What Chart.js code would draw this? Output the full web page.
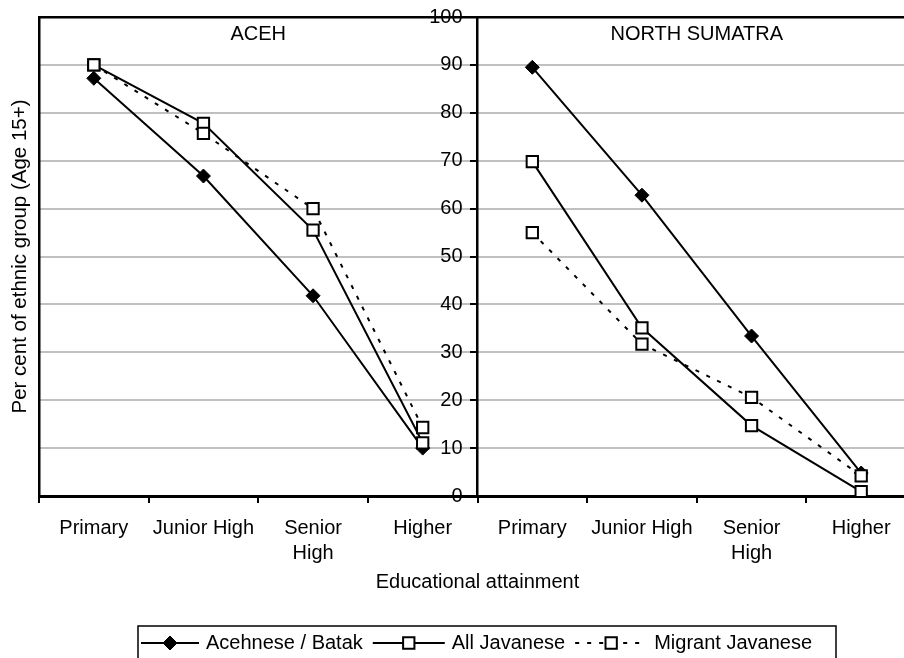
<!DOCTYPE html>
<html>
<head>
<meta charset="utf-8">
<script src="https://cdn.jsdelivr.net/npm/chart.js@4.4.1/dist/chart.umd.min.js"></script>
<style>
  html, body { margin: 0; padding: 0; background: #fff; overflow: hidden; }
  #wrap { width: 904px; height: 658px; overflow: hidden; }
</style>
</head>
<body>
<div id="wrap"><canvas id="chart" width="926" height="658"></canvas></div>
<script>
const categories = ['Primary', 'Junior High', ['Senior', 'High'], 'Higher'];
const panels = ['ACEH', 'NORTH SUMATRA'];
const seriesNames = ['Acehnese / Batak', 'All Javanese', 'Migrant Javanese'];

// per cent of ethnic group aged 15+, by educational attainment
const acehAcehnese = [87.2, 66.8, 41.8, 10.0];
const acehAllJavanese = [90.0, 77.8, 55.5, 11.1];
const acehMigrant = [90.0, 75.7, 60.0, 14.3];
const sumutBatak = [89.5, 62.8, 33.4, 4.8];
const sumutAllJavanese = [69.8, 35.1, 14.7, 0.9];
const sumutMigrant = [55.0, 31.7, 20.6, 4.2];

const yMin = 0;
const yMax = 100;
const yStep = 10;

const FONT = '"Liberation Sans", Arial, sans-serif';
const font = { family: FONT, size: 20, lineHeight: 1.25 };

const seriesStyle = [
  { pointStyle: 'rectRot', pointRadius: 7, pointBackgroundColor: '#000', pointBorderWidth: 1, borderDash: [] },
  { pointStyle: 'rect', pointRadius: 8, pointBackgroundColor: '#fff', pointBorderWidth: 2, borderDash: [] },
  { pointStyle: 'rect', pointRadius: 8, pointBackgroundColor: '#fff', pointBorderWidth: 2, borderDash: [4, 8] },
];

const blanks = categories.map(() => null);
const panelSeries = [
  [acehAcehnese, acehAllJavanese, acehMigrant],
  [sumutBatak, sumutAllJavanese, sumutMigrant],
];

const datasets = [];
panelSeries.forEach((series, p) => {
  series.forEach((vals, s) => {
    datasets.push({
      label: seriesNames[s],
      data: p === 0 ? vals.concat(blanks) : blanks.concat(vals),
      borderColor: '#000',
      borderWidth: 2,
      pointBorderColor: '#000',
      spanGaps: false,
      order: 3 - s,
      ...seriesStyle[s],
    });
  });
});

// panel captions, middle-axis numbers and the boxed legend underneath
const panelAndLegend = {
  id: 'panelAndLegend',
  afterDraw(chart) {
    const { ctx, chartArea } = chart;
    const x = chart.scales.x;
    const yMid = chart.scales.yMid;
    ctx.save();
    ctx.font = '20px ' + FONT;
    ctx.fillStyle = '#000';
    ctx.textAlign = 'center';
    ctx.textBaseline = 'middle';
    panels.forEach((name, i) => {
      ctx.fillText(name, x.getPixelForValue(i * categories.length + 1.5), chartArea.top + 17);
    });

    const axisX = x.getPixelForValue(categories.length - 0.5);
    ctx.textAlign = 'right';
    yMid.ticks.forEach((t) => {
      ctx.fillText(String(t.value), axisX - 15, yMid.getPixelForValue(t.value));
    });

    const legY = 643;
    const sampleW = [58, 72, 72];
    let cx = 141;
    ctx.textAlign = 'left';
    seriesNames.forEach((name, s) => {
      const st = seriesStyle[s];
      ctx.strokeStyle = '#000';
      ctx.lineWidth = 2;
      ctx.setLineDash(st.borderDash);
      ctx.beginPath();
      ctx.moveTo(cx, legY);
      ctx.lineTo(cx + sampleW[s], legY);
      ctx.stroke();
      ctx.setLineDash([]);
      const mx = cx + sampleW[s] / 2;
      ctx.beginPath();
      if (st.pointStyle === 'rectRot') {
        const r = st.pointRadius;
        ctx.moveTo(mx, legY - r);
        ctx.lineTo(mx + r, legY);
        ctx.lineTo(mx, legY + r);
        ctx.lineTo(mx - r, legY);
        ctx.closePath();
      } else {
        const h = st.pointRadius * Math.SQRT1_2;
        ctx.rect(mx - h, legY - h, 2 * h, 2 * h);
      }
      ctx.fillStyle = st.pointBackgroundColor;
      ctx.fill();
      ctx.lineWidth = st.pointBorderWidth;
      ctx.stroke();
      cx += sampleW[s] + 7;
      ctx.fillStyle = '#000';
      ctx.fillText(name, cx, legY);
      cx += ctx.measureText(name).width + 10;
    });
    ctx.strokeStyle = '#000';
    ctx.lineWidth = 1.5;
    ctx.strokeRect(138, 626, 836 - 138, 40);
    ctx.restore();
  }
};

new Chart(document.getElementById('chart'), {
  type: 'line',
  data: {
    labels: categories.concat(categories),
    datasets: datasets,
  },
  options: {
    responsive: false,
    animation: false,
    events: [],
    layout: { padding: { top: 17, right: 5, bottom: 52, left: 0 } },
    plugins: {
      legend: { display: false },
      tooltip: { enabled: false },
    },
    scales: {
      x: {
        type: 'category',
        position: 'bottom',
        offset: true,
        grid: { display: true, offset: true, drawOnChartArea: false, drawTicks: true, tickLength: 7, color: '#000', lineWidth: 2 },
        border: { display: true, color: '#000', width: 3 },
        ticks: { color: '#000', font: font, padding: 13, maxRotation: 0, autoSkip: false },
        title: { display: true, text: 'Educational attainment', color: '#000', font: font, padding: { top: 0, bottom: 11 } },
        afterFit(s) { s.height = 110; },
      },
      xTop: {
        type: 'category',
        position: 'top',
        offset: true,
        grid: { display: false, drawTicks: false },
        ticks: { display: false },
        border: { display: true, color: '#000', width: 2.5 },
        afterFit(s) { s.height = 0; },
      },
      y: {
        position: 'left',
        min: yMin,
        max: yMax,
        ticks: { display: false, stepSize: yStep },
        grid: { display: false, drawTicks: false },
        border: { display: true, color: '#000', width: 2.5 },
        title: { display: true, text: 'Per cent of ethnic group (Age 15+)', color: '#000', font: { family: FONT, size: 20.5, lineHeight: 1.25 }, padding: { top: 8, bottom: 0 } },
        afterFit(s) { s.width = 39; },
      },
      yMid: {
        position: { x: categories.length - 0.5 },
        min: yMin,
        max: yMax,
        ticks: { stepSize: yStep, display: false },
        grid: {
          color: (c) => (c.tick && (c.tick.value === yMin || c.tick.value === yMax)) ? 'rgba(0,0,0,0)' : '#c0c0c0',
          lineWidth: 2,
          tickColor: '#000',
          tickLength: 6,
          tickWidth: 2,
        },
        border: { display: true, color: '#000', width: 2.5 },
      },
    },
  },
  plugins: [panelAndLegend],
});
</script>
</body>
</html>
